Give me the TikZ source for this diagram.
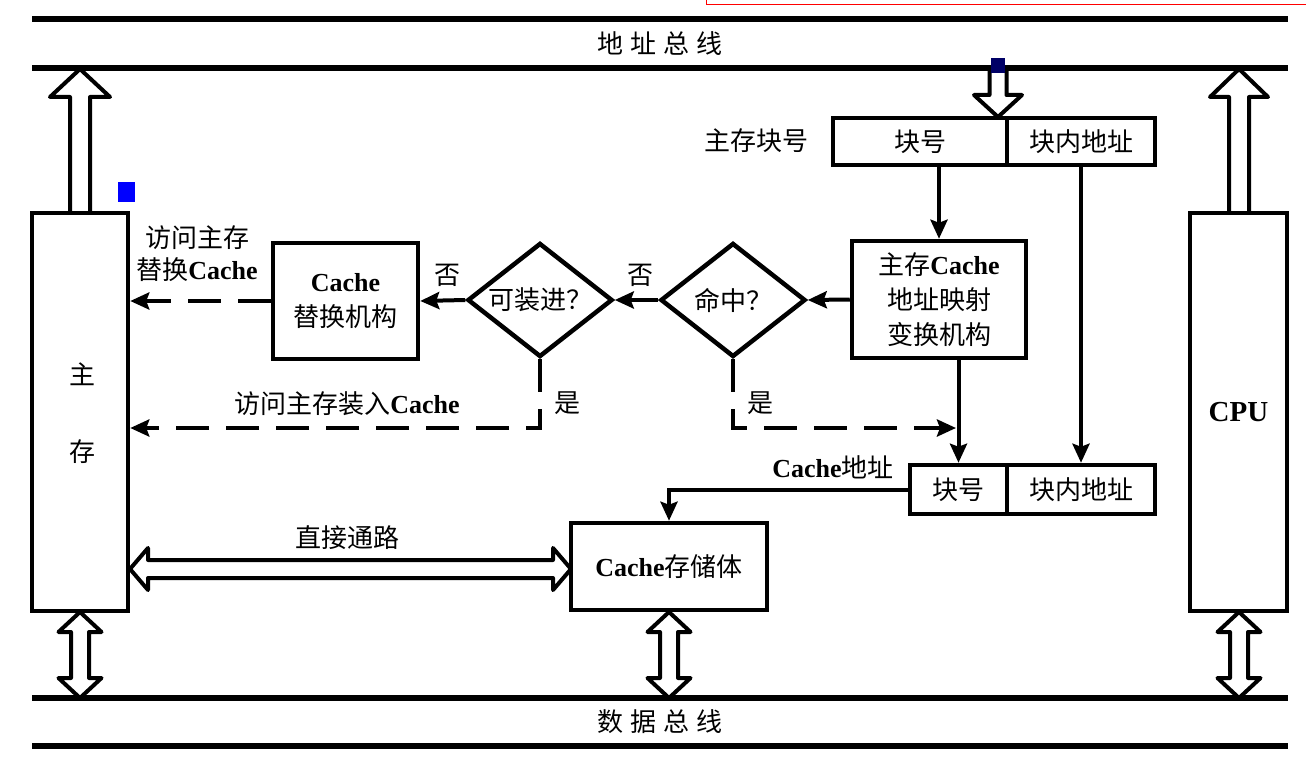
\documentclass[tikz,border=0pt]{standalone}
\usepackage{fontspec}
\setmainfont{Liberation Serif}
\newfontfamily\cjk{Noto Sans CJK SC}
\usetikzlibrary{shapes.geometric,arrows.meta,calc}
\definecolor{navyblk}{RGB}{0,0,102}
\newcommand\cachetxt{{\rmfamily\bfseries Cache}}
\begin{document}
\begin{tikzpicture}[x=1pt,y=-1pt,
  every node/.style={font=\cjk\fontsize{26}{30}\selectfont, inner sep=0pt},
  box/.style={draw, line width=4.5pt, align=center},
  dia/.style={diamond, draw, line width=4.5pt, aspect=1.27, minimum width=145pt, minimum height=114pt},
  arr/.style={line width=4pt, -{Stealth[length=19pt,width=17pt,inset=3pt]}},
  dasharr/.style={arr, dash pattern=on 33pt off 17pt},
  hollow/.style={draw, line width=4pt, fill=white, line join=round},
  bus/.style={line width=6pt},
  lbl/.style={align=center}]
\useasboundingbox (0,0) rectangle (1306,757);

% red frame fragment
\draw[red, line width=1pt] (706.5,0) -- (706.5,5) -- (1306,5);

% hollow bus arrows
\draw[hollow] (70,213) -- (70,97) -- (50,97) -- (80,69) -- (110,97) -- (90,97) -- (90,213);
\draw[hollow] (1229,213) -- (1229,97) -- (1210,97) -- (1239,69) -- (1268,97) -- (1249,97) -- (1249,213);
\draw[hollow] (989.5,68) -- (989.5,95) -- (974,95) -- (998,117) -- (1022,95) -- (1006.5,95) -- (1006.5,68);
\foreach \x in {80,669,1239}{
  \draw[hollow] (\x,612) -- (\x+21.5,632) -- (\x+9,632) -- (\x+9,678) -- (\x+21.5,678) -- (\x,698)
    -- (\x-21.5,678) -- (\x-9,678) -- (\x-9,632) -- (\x-21.5,632) -- cycle;
}
\draw[hollow] (130,569) -- (148,548) -- (148,560) -- (553,560) -- (553,548) -- (571,569)
  -- (553,590) -- (553,578) -- (148,578) -- (148,590) -- cycle;

% buses
\draw[bus] (32,19) -- (1288,19);
\draw[bus] (32,68) -- (1288,68);
\draw[bus] (32,698) -- (1288,698);
\draw[bus] (32,746) -- (1288,746);
\node (abus) at (660,44) {地\hspace{7pt}址\hspace{7pt}总\hspace{7pt}线};
\node (dbus) at (660,722) {数\hspace{7pt}据\hspace{7pt}总\hspace{7pt}线};

% marker squares
\fill[blue] (118,182) rectangle (135,202);
\fill[navyblk] (991,58) rectangle (1005,73);

% boxes
\node[box, minimum width=96pt, minimum height=398pt] (mem) at (80,412) {};
\node (memA) at (82,374) {主};
\node (memB) at (82,452) {存};
\node[box, minimum width=97pt, minimum height=398pt, font=\rmfamily\bfseries\fontsize{29}{32}\selectfont] (cpu) at (1238.5,412) {CPU};
\node[box, minimum width=196pt, minimum height=87pt] (store) at (669,566.5) {\cachetxt 存储体};
\node[box, minimum width=174pt, minimum height=117pt, font=\cjk\fontsize{26}{35}\selectfont] (map) at (939,299.5) {主存\cachetxt\\地址映射\\变换机构};
\node[box, minimum width=145pt, minimum height=116pt, font=\cjk\fontsize{26}{35}\selectfont] (repl) at (345.5,301) {\cachetxt\\替换机构};
\node[dia] (hit) at (733,300) {命中？};
\node[dia] (load) at (540,300) {可装进？};

\node[box, minimum width=174pt, minimum height=47pt] (blk1) at (920,141.5) {块号};
\node[box, minimum width=148pt, minimum height=47pt] (off1) at (1081,141.5) {块内地址};
\node[box, minimum width=97pt, minimum height=49pt] (blk2) at (958.5,489.5) {块号};
\node[box, minimum width=148pt, minimum height=49pt] (off2) at (1081,489.5) {块内地址};

% labels
\node (lmb) at (756,141) {主存块号};
\node[lbl, font=\cjk\fontsize{26}{32}\selectfont] (lrep) at (197,254) {访问主存\\替换\cachetxt};
\node (no1) at (447,275) {否};
\node (no2) at (640,275) {否};
\node (yes1) at (567,403) {是};
\node (yes2) at (760,403) {是};
\node (lload) at (347,404) {访问主存装入\cachetxt};
\node (lca) at (833,467) {\cachetxt 地址};
\node (ldir) at (347,538) {直接通路};

% connectors
\coordinate (ly) at (0,428);
\coordinate (hy) at (956,428);
\draw[arr] (map.north |- blk1.south) -- (map.north);
\draw[arr] (off1.south) -- (off2.north);
\draw[arr] (map.west) -- (hit.east);
\draw[arr] (hit.west) -- (load.east);
\draw[arr] (load.west) -- (repl.east);
\draw[dasharr] (repl.west) -- (repl.west -| mem.east);
\draw[dasharr] (load.south) -- (load.south |- ly) -- (mem.east |- ly);
\draw[dasharr] (hit.south) -- (hit.south |- hy) -- (hy);
\draw[arr] (blk2.north |- map.south) -- (blk2.north);
\draw[arr] (blk2.west) -| (store.north);
\end{tikzpicture}
\end{document}
